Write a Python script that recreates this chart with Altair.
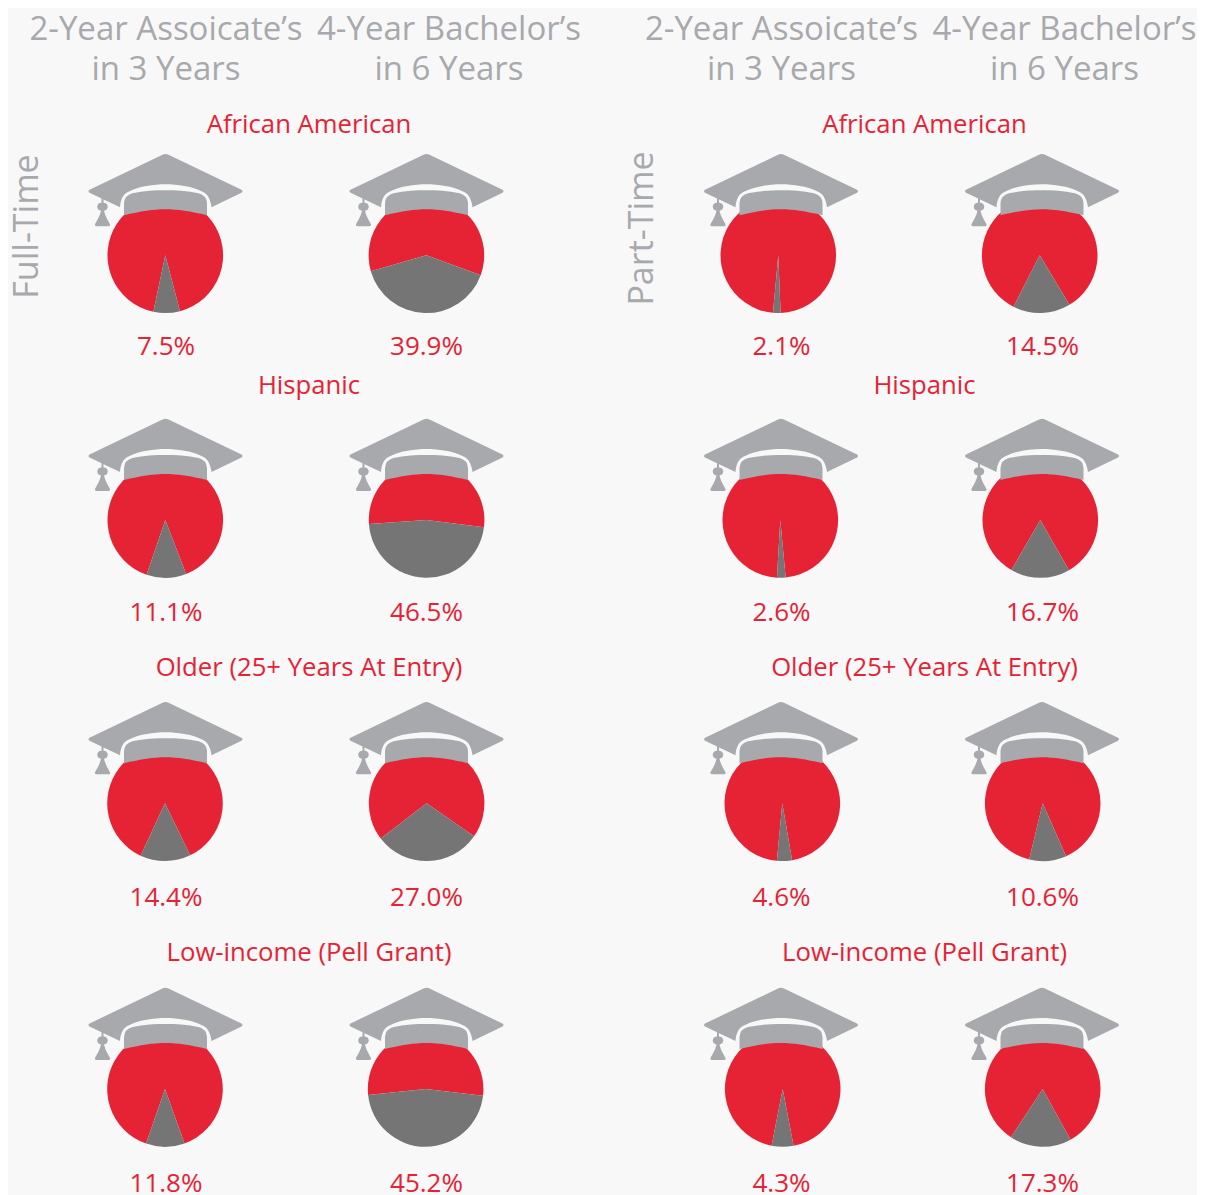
import altair as alt
import pandas as pd

BG = "#f8f8f8"
RED = "#e52335"
DARK = "#757575"
CAP = "#a7a9ac"
FONT = "Open Sans"

groups = ["African American", "Hispanic", "Older (25+ Years At Entry)", "Low-income (Pell Grant)"]
headers = ["2-Year Assoicate\u2019s", "in 3 Years", "4-Year Bachelor\u2019s", "in 6 Years"]
sides = ["Full-Time", "Part-Time"]

# printed percentages
ft_assoc = [7.5, 11.1, 14.4, 11.8]
ft_bach = [39.9, 46.5, 27.0, 45.2]
pt_assoc = [2.1, 2.6, 4.6, 4.3]
pt_bach = [14.5, 16.7, 10.6, 17.3]

# slice share as drawn in the picture (percent of the circle)
drawn = [
    [7.4, 11.1, 14.1, 10.8],
    [40.0, 46.9, 29.9, 46.5],
    [2.1, 2.4, 4.2, 6.1],
    [16.1, 16.6, 10.4, 17.3],
]
# slice rotation as drawn, degrees
spin = [
    [-1.4, -1.1, -0.4, -0.3],
    [2.1, 1.6, -1.3, 0.3],
    [1.5, -1.0, -2.2, 0.1],
    [-2.0, 0.1, -5.2, 2.3],
]

# layout (page pixels)
cap_x = [165.5, 426.5, 781, 1042]
pie_y = [255.3, 520, 803.3, 1089]
pct_y = [347, 613, 898, 1184]
group_y = [125, 386, 668, 953]
group_x = [309, 924.5]
pie_x = [
    [165.3, 165.3, 165, 165],
    [426.4, 426.6, 426.6, 425.6],
    [778.3, 780.3, 782.3, 782.7],
    [1039.7, 1040.3, 1042.7, 1042.7],
]

rows = []
for c, vals in enumerate([ft_assoc, ft_bach, pt_assoc, pt_bach]):
    for r, v in enumerate(vals):
        rows.append(dict(cx=pie_x[c][r], capx=cap_x[c], cy=pie_y[r], ty=pct_y[r], tx=cap_x[c] + (0.5 if c != 1 else 0),
                         pct=drawn[c][r], spin=spin[c][r], label=f"{v:.1f}%"))
df = pd.DataFrame(rows)

CAP_PATH = (
    "M-3,-100.5 Q0,-102 3,-100.5 L76,-65.5 Q78,-64 76,-62.5 L46,-48 C45,-56 42,-62 36,-64 "
    "C26,-69 12,-71 0,-71 C-12,-71 -26,-69 -36,-64 C-42,-62 -45,-56 -45.5,-48 L-76,-62.5 Q-78,-64 -76,-65.5 Z "
    "M-41.5,-40 L-41.5,-52 Q-41,-60 -33,-62 C-22,-64.5 -10,-65 0,-65 C10,-65 22,-64.5 33,-62 Q41,-60 41.5,-52 "
    "L41.5,-40 C25,-44 12,-46 0,-46 C-12,-46 -25,-44 -41.5,-40 Z "
    "M-64,-57 L-62,-57 L-62,-52.5 A4,4 0 0 1 -61.5,-44.5 C-60,-38 -57,-34 -55.5,-31 Q-55,-29 -57,-29 "
    "L-69,-29 Q-71,-29 -70.5,-31 C-69,-34 -66,-38 -64.5,-44.5 A4,4 0 0 1 -64,-52.5 Z"
)

X = alt.Scale(domain=[8, 1197], range=[0, 1189], nice=False, zero=False)
Y = alt.Scale(domain=[8, 1195], range=[0, 1187], nice=False, zero=False)
T = alt.Scale(domain=[0, 100], range=[0, 6.283185307], nice=False, zero=False)


def xe(f):
    return alt.X(f, type="quantitative", scale=X, axis=None)


def ye(f):
    return alt.Y(f, type="quantitative", scale=Y, axis=None)


base = alt.Chart(df).transform_calculate(
    g0="50 + datum.spin / 3.6 - datum.pct / 2",
    g1="50 + datum.spin / 3.6 + datum.pct / 2",
    r1="150 + datum.spin / 3.6 - datum.pct / 2",
)

red = base.mark_arc(radius=57.8, color=RED).encode(
    x=xe("cx"), y=ye("cy"),
    theta=alt.Theta("g1:Q", scale=T), theta2=alt.Theta2("r1:Q"),
)
dark = base.mark_arc(radius=57.8, color=DARK).encode(
    x=xe("cx"), y=ye("cy"),
    theta=alt.Theta("g0:Q", scale=T), theta2=alt.Theta2("g1:Q"),
)
caps = base.mark_point(shape=CAP_PATH, size=4, filled=True, fill=CAP, opacity=1, strokeWidth=0).encode(
    x=xe("capx"), y=ye("cy"),
)
pct_text = base.mark_text(font=FONT, fontSize=26, color=RED, baseline="middle", align="center").encode(
    x=xe("tx"), y=ye("ty"), text="label:N",
)

group_rows = [dict(x=gx, y=gy, t=g) for gx in group_x for g, gy in zip(groups, group_y)]
group_text = alt.Chart(pd.DataFrame(group_rows)).mark_text(
    font=FONT, fontSize=25.7, color=RED, baseline="middle", align="center"
).encode(x=xe("x"), y=ye("y"), text="t:N")

header_rows = []
for off in [0, 615.5]:
    header_rows += [
        dict(x=166 + off, y=30, t=headers[0]),
        dict(x=166 + off, y=70, t=headers[1]),
        dict(x=449 + off, y=30, t=headers[2]),
        dict(x=449 + off, y=70, t=headers[3]),
    ]
header_text = alt.Chart(pd.DataFrame(header_rows)).mark_text(
    font=FONT, fontSize=33, fontWeight=400, color=CAP, baseline="middle", align="center"
).encode(x=xe("x"), y=ye("y"), text="t:N")

side_rows = [dict(x=28, y=226.5, t=sides[0]), dict(x=643, y=228.5, t=sides[1])]
side_text = alt.Chart(pd.DataFrame(side_rows)).mark_text(
    font=FONT, fontSize=34, fontWeight=400, color=CAP, baseline="middle", align="center", angle=270
).encode(x=xe("x"), y=ye("y"), text="t:N")

chart = alt.layer(red, dark, caps, pct_text, group_text, header_text, side_text).properties(
    width=1189, height=1187, padding=0, background=BG,
    autosize=alt.AutoSizeParams(type="none"),
).configure_view(stroke=None)

chart.save("out.html", embed_options={"renderer": "svg", "actions": False})
